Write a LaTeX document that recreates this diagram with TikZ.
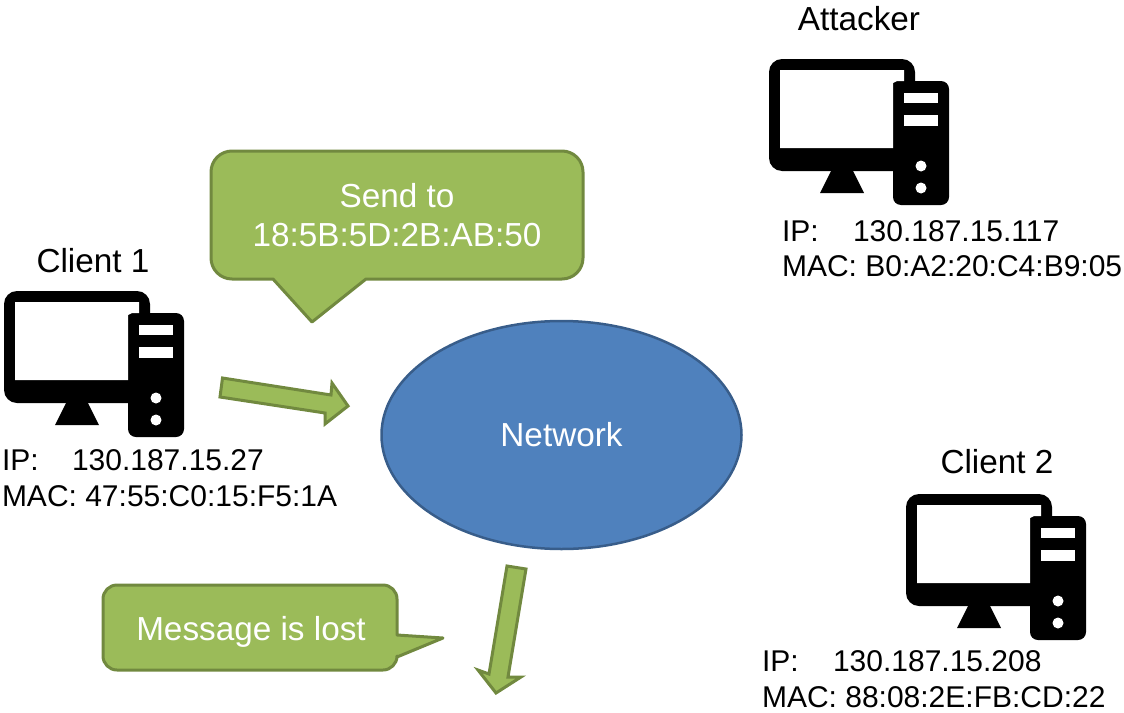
\documentclass[tikz,border=0pt]{standalone}
\usepackage{fontspec}
\usetikzlibrary{shapes.geometric}
\setmainfont{Liberation Sans}
\definecolor{gfill}{HTML}{9BBB59}
\definecolor{gline}{HTML}{71893F}
\definecolor{bfill}{HTML}{4F81BD}
\definecolor{bline}{HTML}{385D8A}
\tikzset{
  shapegreen/.style={fill=gfill,draw=gline,line width=3pt,line join=round},
  blockarrow/.style={fill=gfill,draw=gline,line width=3pt,line join=miter},
  lbl/.style={inner sep=0pt,outer sep=0pt,font=\fontsize{30}{30}\selectfont,text=black,anchor=base west},
  lblc/.style={inner sep=0pt,outer sep=0pt,font=\fontsize{33.3}{33.3}\selectfont,text=black,anchor=base},
  wlbl/.style={lblc,text=white},
  pics/computer/.style={code={
    \fill[black,rounded corners=13pt] (0,0) -- (146,0) -- (146,30) -- (146,112) -- (0,112) -- cycle;
    \fill[black] (62,112) -- (84,112) -- (95,134) -- (51,134) -- cycle;
    \fill[black,rounded corners=8pt] (124,22) -- (180,22) -- (180,146) -- (124,146) -- cycle;
    \fill[white] (11,11) -- (135,11) -- (135,22) -- (128,22) -- (124,24) -- (124,89) -- (11,89) -- cycle;
    \fill[white] (135,34) rectangle (169,44);
    \fill[white] (135,56) rectangle (169,67);
    \fill[white] (152,107) circle (5.5);
    \fill[white] (152,129) circle (5.5);
  }}
}
\begin{document}
\begin{tikzpicture}[x=1pt,y=-1pt]
\useasboundingbox (0,0) rectangle (1124,712);
\pic at (4,291) {computer};
\pic at (769,59) {computer};
\pic at (906,494) {computer};
% Network
\node[ellipse,fill=bfill,draw=bline,line width=2.5pt,minimum width=360pt,minimum height=228pt,inner sep=0pt,text=white,font=\fontsize{33.3}{33.3}\selectfont] (net) at (561.5,435) {Network};
% bubble 1
\path[shapegreen,rounded corners=21pt] (211,151) -- (583,151) -- (583,279) [sharp corners] -- (366,279) -- (312,322) -- (273,279) [rounded corners=21pt] -- (211,279) -- cycle;
\node[wlbl] (send1) at (397,207) {Send to};
\node[wlbl] (send2) at (397,246) {18:5B:5D:2B:AB:50};
% bubble 2
\path[shapegreen,rounded corners=14pt] (103,585) -- (397,585) [sharp corners] -- (397,635) -- (443,638) -- (397,657) [rounded corners=14pt] -- (397,670) -- (103,670) -- cycle;
\node[wlbl] (lost) at (251,640) {Message is lost};
% arrows
\path[blockarrow] (222.5,378) -- (331,395) -- (332,383) -- (348,406) -- (325,424) -- (325,413) -- (220,397) -- cycle;
\path[blockarrow] (507,566) -- (526,569) -- (508,677) -- (521,677) -- (496,693) -- (478,670) -- (489,674) -- cycle;
% labels
\node[lblc] (c1) at (93,272) {Client 1};
\node[lblc] (att) at (859,30) {Attacker};
\node[lblc] (c2) at (997,473) {Client 2};
\node[lbl] (ip1) at (2,470) {IP:};
\node[lbl] (ipa1) at (72,470) {130.187.15.27};
\node[lbl] (mac1) at (2,506) {MAC: 47:55:C0:15:F5:1A};
\node[lbl] (ip2) at (782,241) {IP:};
\node[lbl] (ipa2) at (853,241) {130.187.15.117};
\node[lbl] (mac2) at (782,276) {MAC: B0:A2:20:C4:B9:05};
\node[lbl] (ip3) at (762,671) {IP:};
\node[lbl] (ipa3) at (833,671) {130.187.15.208};
\node[lbl] (mac3) at (762,707) {MAC: 88:08:2E:FB:CD:22};
\end{tikzpicture}
\end{document}
